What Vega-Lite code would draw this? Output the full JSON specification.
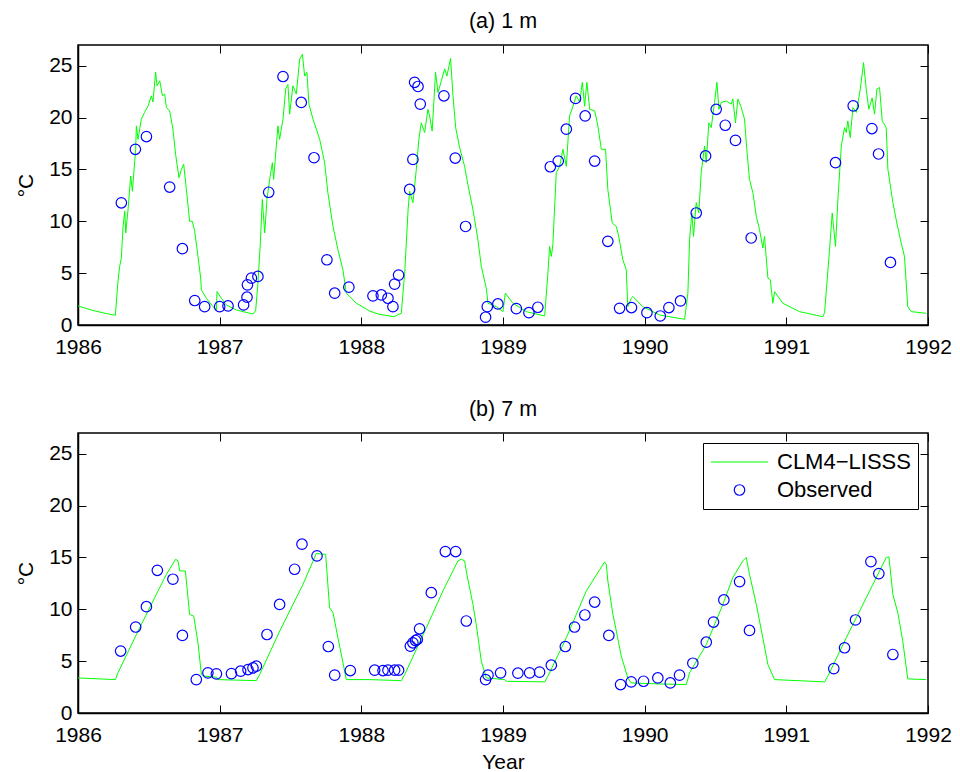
{
  "$schema": "https://vega.github.io/schema/vega-lite/v6.json",
  "padding": {"left": 14, "top": 10, "right": 5, "bottom": 2},
  "background": "white",
  "config": {
    "font": "Liberation Sans",
    "view": {"stroke": "black", "strokeWidth": 1.5},
    "axis": {"domainColor": "black", "domainWidth": 1.5, "tickColor": "black", "tickSize": -8, "tickWidth": 1, "labelFontSize": 21, "labelColor": "black", "labelFont": "Liberation Sans", "titleFont": "Liberation Sans", "titleFontSize": 21, "titleFontWeight": "normal", "titleColor": "black", "grid": false, "labelFlush": false},
    "axisX": {"labelPadding": 19, "titlePadding": 6},
    "axisY": {"labelPadding": 14, "titlePadding": 12},
    "title": {"fontSize": 21.5, "fontWeight": "normal", "color": "black", "font": "Liberation Sans", "offset": 12},
    "legend": {"orient": "top-right", "offset": 10, "strokeColor": "black", "fillColor": "white", "padding": 7, "labelFontSize": 22, "labelFont": "Liberation Sans", "labelColor": "black", "symbolStrokeWidth": 1, "labelOffset": 8, "rowPadding": 4, "clipHeight": 24}
  },
  "datasets": {
    "m1": [
      {"t":1986.0,"v":1.84},{"t":1986.1,"v":1.42},{"t":1986.2,"v":1.1},{"t":1986.264,"v":0.94},{"t":1986.28,"v":3.87},{"t":1986.294,"v":5.65},{"t":1986.306,"v":6.45},{"t":1986.318,"v":9.5},{"t":1986.33,"v":10.97},{"t":1986.337,"v":8.87},{"t":1986.353,"v":11.1},{"t":1986.372,"v":14.36},{"t":1986.384,"v":12.9},{"t":1986.407,"v":16.94},{"t":1986.412,"v":19.2},{"t":1986.424,"v":17.9},{"t":1986.447,"v":19.85},{"t":1986.47,"v":20.5},{"t":1986.494,"v":21.1},{"t":1986.518,"v":22.1},{"t":1986.529,"v":21.5},{"t":1986.548,"v":24.37},{"t":1986.558,"v":23.07},{"t":1986.577,"v":23.55},{"t":1986.596,"v":22.1},{"t":1986.612,"v":22.27},{"t":1986.624,"v":20.97},{"t":1986.647,"v":20.65},{"t":1986.67,"v":18.9},{"t":1986.689,"v":16.46},{"t":1986.713,"v":14.2},{"t":1986.73,"v":15.0},{"t":1986.746,"v":15.5},{"t":1986.765,"v":13.07},{"t":1986.788,"v":10.0},{"t":1986.807,"v":10.0},{"t":1986.824,"v":9.03},{"t":1986.847,"v":6.61},{"t":1986.866,"v":4.52},{"t":1986.871,"v":3.39},{"t":1986.906,"v":2.58},{"t":1986.953,"v":1.77},{"t":1986.977,"v":1.45},{"t":1986.981,"v":3.22},{"t":1987.012,"v":2.58},{"t":1987.047,"v":1.94},{"t":1987.118,"v":1.45},{"t":1987.235,"v":1.06},{"t":1987.254,"v":1.38},{"t":1987.27,"v":4.03},{"t":1987.287,"v":7.9},{"t":1987.301,"v":12.1},{"t":1987.318,"v":8.87},{"t":1987.334,"v":12.1},{"t":1987.353,"v":14.04},{"t":1987.372,"v":15.65},{"t":1987.381,"v":14.04},{"t":1987.411,"v":19.2},{"t":1987.423,"v":17.9},{"t":1987.447,"v":19.85},{"t":1987.466,"v":22.75},{"t":1987.482,"v":23.2},{"t":1987.494,"v":20.33},{"t":1987.517,"v":23.07},{"t":1987.541,"v":22.27},{"t":1987.565,"v":25.65},{"t":1987.584,"v":26.1},{"t":1987.6,"v":24.0},{"t":1987.616,"v":24.37},{"t":1987.63,"v":21.3},{"t":1987.659,"v":19.85},{"t":1987.682,"v":18.9},{"t":1987.706,"v":17.9},{"t":1987.741,"v":15.65},{"t":1987.764,"v":12.75},{"t":1987.8,"v":9.5},{"t":1987.835,"v":7.26},{"t":1987.87,"v":5.32},{"t":1987.894,"v":3.07},{"t":1987.965,"v":2.1},{"t":1988.059,"v":1.35},{"t":1988.12,"v":1.05},{"t":1988.23,"v":0.8},{"t":1988.282,"v":1.13},{"t":1988.306,"v":5.0},{"t":1988.33,"v":11.1},{"t":1988.341,"v":12.9},{"t":1988.364,"v":11.8},{"t":1988.388,"v":15.0},{"t":1988.406,"v":17.9},{"t":1988.423,"v":19.5},{"t":1988.447,"v":18.56},{"t":1988.47,"v":20.8},{"t":1988.482,"v":20.16},{"t":1988.5,"v":18.7},{"t":1988.524,"v":24.37},{"t":1988.541,"v":22.4},{"t":1988.565,"v":23.55},{"t":1988.588,"v":24.7},{"t":1988.604,"v":24.0},{"t":1988.63,"v":25.7},{"t":1988.647,"v":22.1},{"t":1988.666,"v":19.04},{"t":1988.694,"v":17.1},{"t":1988.729,"v":15.3},{"t":1988.752,"v":13.55},{"t":1988.788,"v":11.1},{"t":1988.823,"v":8.23},{"t":1988.847,"v":5.65},{"t":1988.882,"v":3.55},{"t":1988.894,"v":2.1},{"t":1988.953,"v":1.77},{"t":1989.0,"v":1.29},{"t":1989.016,"v":3.07},{"t":1989.07,"v":2.1},{"t":1989.164,"v":1.29},{"t":1989.294,"v":0.87},{"t":1989.317,"v":5.0},{"t":1989.329,"v":7.58},{"t":1989.341,"v":6.61},{"t":1989.352,"v":7.74},{"t":1989.376,"v":14.68},{"t":1989.4,"v":15.3},{"t":1989.423,"v":16.94},{"t":1989.447,"v":15.3},{"t":1989.47,"v":20.16},{"t":1989.494,"v":21.1},{"t":1989.517,"v":22.1},{"t":1989.541,"v":21.5},{"t":1989.56,"v":23.4},{"t":1989.576,"v":21.1},{"t":1989.592,"v":23.4},{"t":1989.612,"v":20.8},{"t":1989.647,"v":20.65},{"t":1989.67,"v":19.2},{"t":1989.694,"v":16.94},{"t":1989.724,"v":16.94},{"t":1989.74,"v":13.07},{"t":1989.771,"v":9.84},{"t":1989.8,"v":9.5},{"t":1989.817,"v":8.55},{"t":1989.846,"v":6.29},{"t":1989.87,"v":5.32},{"t":1989.881,"v":1.77},{"t":1989.905,"v":2.58},{"t":1989.917,"v":2.74},{"t":1989.987,"v":1.77},{"t":1990.105,"v":0.97},{"t":1990.152,"v":0.85},{"t":1990.282,"v":0.55},{"t":1990.305,"v":3.07},{"t":1990.317,"v":8.23},{"t":1990.333,"v":10.8},{"t":1990.345,"v":8.55},{"t":1990.364,"v":11.8},{"t":1990.382,"v":10.8},{"t":1990.399,"v":14.68},{"t":1990.423,"v":17.26},{"t":1990.435,"v":15.65},{"t":1990.453,"v":19.5},{"t":1990.47,"v":19.04},{"t":1990.493,"v":21.46},{"t":1990.51,"v":23.4},{"t":1990.524,"v":20.8},{"t":1990.541,"v":21.46},{"t":1990.576,"v":21.6},{"t":1990.611,"v":21.3},{"t":1990.622,"v":21.8},{"t":1990.641,"v":19.5},{"t":1990.658,"v":21.8},{"t":1990.682,"v":20.97},{"t":1990.705,"v":19.85},{"t":1990.721,"v":16.94},{"t":1990.74,"v":14.04},{"t":1990.764,"v":12.75},{"t":1990.788,"v":10.48},{"t":1990.811,"v":9.2},{"t":1990.834,"v":7.42},{"t":1990.846,"v":8.55},{"t":1990.87,"v":4.52},{"t":1990.887,"v":4.36},{"t":1990.905,"v":2.1},{"t":1990.917,"v":3.22},{"t":1990.975,"v":2.1},{"t":1991.093,"v":1.29},{"t":1991.258,"v":0.8},{"t":1991.27,"v":1.19},{"t":1991.305,"v":7.26},{"t":1991.324,"v":10.8},{"t":1991.347,"v":7.58},{"t":1991.364,"v":12.1},{"t":1991.388,"v":17.26},{"t":1991.411,"v":19.04},{"t":1991.423,"v":18.56},{"t":1991.434,"v":19.68},{"t":1991.451,"v":18.07},{"t":1991.47,"v":20.97},{"t":1991.494,"v":20.5},{"t":1991.522,"v":22.75},{"t":1991.545,"v":25.3},{"t":1991.564,"v":22.75},{"t":1991.582,"v":20.8},{"t":1991.606,"v":21.9},{"t":1991.623,"v":20.33},{"t":1991.639,"v":22.75},{"t":1991.658,"v":22.9},{"t":1991.677,"v":19.68},{"t":1991.705,"v":19.04},{"t":1991.717,"v":15.0},{"t":1991.752,"v":11.8},{"t":1991.78,"v":9.84},{"t":1991.811,"v":7.9},{"t":1991.834,"v":6.61},{"t":1991.857,"v":1.77},{"t":1991.881,"v":1.29},{"t":1991.987,"v":1.13}
    ],
    "o1": [
      {"t":1986.306,"v":11.78},{"t":1986.405,"v":16.94},{"t":1986.483,"v":18.17},{"t":1986.647,"v":13.3},{"t":1986.737,"v":7.36},{"t":1986.824,"v":2.36},{"t":1986.894,"v":1.77},{"t":1987.0,"v":1.77},{"t":1987.059,"v":1.84},{"t":1987.169,"v":1.94},{"t":1987.193,"v":2.68},{"t":1987.196,"v":3.87},{"t":1987.224,"v":4.52},{"t":1987.27,"v":4.68},{"t":1987.346,"v":12.8},{"t":1987.447,"v":23.96},{"t":1987.576,"v":21.46},{"t":1987.666,"v":16.13},{"t":1987.757,"v":6.29},{"t":1987.812,"v":3.07},{"t":1987.912,"v":3.65},{"t":1988.082,"v":2.81},{"t":1988.141,"v":2.9},{"t":1988.188,"v":2.58},{"t":1988.223,"v":1.77},{"t":1988.235,"v":3.94},{"t":1988.263,"v":4.81},{"t":1988.341,"v":13.07},{"t":1988.364,"v":15.97},{"t":1988.376,"v":23.4},{"t":1988.4,"v":23.0},{"t":1988.416,"v":21.3},{"t":1988.583,"v":22.1},{"t":1988.663,"v":16.1},{"t":1988.736,"v":9.5},{"t":1988.877,"v":0.75},{"t":1988.889,"v":1.77},{"t":1988.964,"v":2.03},{"t":1989.094,"v":1.58},{"t":1989.183,"v":1.19},{"t":1989.246,"v":1.71},{"t":1989.334,"v":15.26},{"t":1989.39,"v":15.81},{"t":1989.447,"v":18.88},{"t":1989.512,"v":21.85},{"t":1989.58,"v":20.16},{"t":1989.647,"v":15.81},{"t":1989.74,"v":8.07},{"t":1989.823,"v":1.61},{"t":1989.907,"v":1.68},{"t":1990.016,"v":1.19},{"t":1990.11,"v":0.87},{"t":1990.171,"v":1.68},{"t":1990.253,"v":2.32},{"t":1990.364,"v":10.8},{"t":1990.43,"v":16.3},{"t":1990.505,"v":20.8},{"t":1990.569,"v":19.26},{"t":1990.641,"v":17.8},{"t":1990.752,"v":8.39},{"t":1991.347,"v":15.65},{"t":1991.472,"v":21.13},{"t":1991.604,"v":18.94},{"t":1991.651,"v":16.49},{"t":1991.735,"v":6.03}
    ],
    "m7": [
      {"t":1986.0,"v":3.38},{"t":1986.264,"v":3.22},{"t":1986.282,"v":3.87},{"t":1986.412,"v":7.57},{"t":1986.553,"v":11.44},{"t":1986.624,"v":13.37},{"t":1986.689,"v":14.83},{"t":1986.706,"v":14.67},{"t":1986.718,"v":13.7},{"t":1986.758,"v":13.7},{"t":1986.788,"v":9.5},{"t":1986.817,"v":9.35},{"t":1986.847,"v":6.77},{"t":1986.871,"v":3.7},{"t":1986.894,"v":3.55},{"t":1986.977,"v":3.45},{"t":1986.988,"v":3.22},{"t":1987.259,"v":3.12},{"t":1987.282,"v":3.7},{"t":1987.424,"v":7.9},{"t":1987.588,"v":12.4},{"t":1987.682,"v":15.38},{"t":1987.748,"v":15.3},{"t":1987.776,"v":10.15},{"t":1987.8,"v":9.67},{"t":1987.835,"v":7.25},{"t":1987.894,"v":3.22},{"t":1988.059,"v":3.22},{"t":1988.282,"v":3.12},{"t":1988.306,"v":3.7},{"t":1988.459,"v":8.22},{"t":1988.576,"v":11.77},{"t":1988.682,"v":14.67},{"t":1988.706,"v":14.83},{"t":1988.729,"v":14.67},{"t":1988.745,"v":13.37},{"t":1988.788,"v":10.47},{"t":1988.811,"v":8.54},{"t":1988.847,"v":5.0},{"t":1988.882,"v":3.38},{"t":1989.011,"v":3.22},{"t":1989.024,"v":3.06},{"t":1989.294,"v":3.0},{"t":1989.317,"v":3.55},{"t":1989.447,"v":7.25},{"t":1989.588,"v":11.77},{"t":1989.717,"v":14.57},{"t":1989.729,"v":14.34},{"t":1989.74,"v":12.74},{"t":1989.776,"v":9.5},{"t":1989.8,"v":7.9},{"t":1989.835,"v":5.48},{"t":1989.881,"v":3.38},{"t":1989.905,"v":2.9},{"t":1990.105,"v":2.8},{"t":1990.294,"v":2.74},{"t":1990.317,"v":3.87},{"t":1990.435,"v":6.6},{"t":1990.552,"v":10.47},{"t":1990.622,"v":13.06},{"t":1990.693,"v":14.67},{"t":1990.717,"v":15.0},{"t":1990.74,"v":13.37},{"t":1990.788,"v":10.47},{"t":1990.834,"v":7.25},{"t":1990.87,"v":4.67},{"t":1990.917,"v":3.22},{"t":1991.27,"v":3.0},{"t":1991.293,"v":3.55},{"t":1991.423,"v":7.25},{"t":1991.611,"v":12.4},{"t":1991.705,"v":15.0},{"t":1991.724,"v":15.06},{"t":1991.752,"v":11.44},{"t":1991.787,"v":9.67},{"t":1991.822,"v":6.93},{"t":1991.857,"v":3.29},{"t":1991.987,"v":3.22}
    ],
    "o7": [
      {"t":1986.301,"v":5.97},{"t":1986.407,"v":8.29},{"t":1986.483,"v":10.25},{"t":1986.56,"v":13.76},{"t":1986.67,"v":12.9},{"t":1986.737,"v":7.48},{"t":1986.835,"v":3.22},{"t":1986.917,"v":3.87},{"t":1986.977,"v":3.77},{"t":1987.083,"v":3.8},{"t":1987.148,"v":4.03},{"t":1987.2,"v":4.19},{"t":1987.235,"v":4.35},{"t":1987.259,"v":4.52},{"t":1987.334,"v":7.57},{"t":1987.423,"v":10.47},{"t":1987.529,"v":13.86},{"t":1987.581,"v":16.28},{"t":1987.687,"v":15.15},{"t":1987.767,"v":6.41},{"t":1987.812,"v":3.65},{"t":1987.922,"v":4.09},{"t":1988.094,"v":4.13},{"t":1988.153,"v":4.09},{"t":1988.188,"v":4.13},{"t":1988.235,"v":4.13},{"t":1988.263,"v":4.13},{"t":1988.346,"v":6.45},{"t":1988.364,"v":6.77},{"t":1988.383,"v":6.99},{"t":1988.395,"v":7.09},{"t":1988.411,"v":8.12},{"t":1988.494,"v":11.6},{"t":1988.593,"v":15.57},{"t":1988.666,"v":15.57},{"t":1988.741,"v":8.87},{"t":1988.877,"v":3.22},{"t":1988.894,"v":3.65},{"t":1988.983,"v":3.87},{"t":1989.105,"v":3.84},{"t":1989.188,"v":3.87},{"t":1989.258,"v":3.94},{"t":1989.341,"v":4.61},{"t":1989.44,"v":6.41},{"t":1989.505,"v":8.29},{"t":1989.578,"v":9.45},{"t":1989.647,"v":10.7},{"t":1989.747,"v":7.48},{"t":1989.83,"v":2.74},{"t":1989.905,"v":3.0},{"t":1989.992,"v":3.06},{"t":1990.093,"v":3.38},{"t":1990.181,"v":2.9},{"t":1990.246,"v":3.65},{"t":1990.34,"v":4.8},{"t":1990.435,"v":6.83},{"t":1990.486,"v":8.77},{"t":1990.559,"v":10.9},{"t":1990.67,"v":12.67},{"t":1990.74,"v":7.96},{"t":1991.335,"v":4.28},{"t":1991.411,"v":6.29},{"t":1991.488,"v":8.97},{"t":1991.597,"v":14.6},{"t":1991.653,"v":13.44},{"t":1991.752,"v":5.64}
    ]
  },
  "spacing": 40,
  "resolve": {"scale": {"color": "independent"}, "legend": {"color": "independent"}},
  "vconcat": [
    {
      "width": 850, "height": 280,
      "title": "(a) 1 m",
      "resolve": {"axis": {"x": "independent", "y": "independent"}},
      "layer": [
        {
          "data": {"name": "m1"},
          "mark": {"type": "line", "color": "#00ff00", "strokeWidth": 1},
          "encoding": {
            "x": {"field": "t", "type": "quantitative", "scale": {"domain": [1986, 1992], "nice": false, "zero": false}, "axis": {"orient": "bottom", "values": [1986,1987,1988,1989,1990,1991,1992], "format": "d", "title": null}},
            "y": {"field": "v", "type": "quantitative", "scale": {"domain": [0, 27], "nice": false}, "axis": {"orient": "left", "values": [0,5,10,15,20,25], "title": "°C"}}
          }
        },
        {
          "data": {"name": "o1"},
          "mark": {"type": "point", "shape": "circle", "filled": false, "color": "#0000ff", "size": 110, "strokeWidth": 1.2, "opacity": 1},
          "encoding": {
            "x": {"field": "t", "type": "quantitative", "axis": {"orient": "top", "labels": false, "domain": false, "values": [1986,1987,1988,1989,1990,1991,1992], "title": null}},
            "y": {"field": "v", "type": "quantitative", "axis": {"orient": "right", "labels": false, "domain": false, "values": [0,5,10,15,20,25], "title": null}}
          }
        }
      ]
    },
    {
      "width": 850, "height": 280,
      "title": "(b) 7 m",
      "resolve": {"axis": {"x": "independent", "y": "independent"}},
      "layer": [
        {
          "data": {"name": "m7"},
          "mark": {"type": "line", "strokeWidth": 1},
          "encoding": {
            "x": {"field": "t", "type": "quantitative", "scale": {"domain": [1986, 1992], "nice": false, "zero": false}, "axis": {"orient": "bottom", "values": [1986,1987,1988,1989,1990,1991,1992], "format": "d", "title": "Year"}},
            "y": {"field": "v", "type": "quantitative", "scale": {"domain": [0, 27], "nice": false}, "axis": {"orient": "left", "values": [0,5,10,15,20,25], "title": "°C"}},
            "color": {"datum": "CLM4−LISSS", "type": "nominal", "scale": {"domain": ["CLM4−LISSS", "Observed"], "range": ["#00ff00", "#0000ff"]},
              "legend": {"title": null, "encode": {"symbols": {"update": {"shape": {"signal": "datum.value === 'Observed' ? 'circle' : 'stroke'"}, "size": {"signal": "datum.value === 'Observed' ? 110 : 3249"}, "fill": {"value": "transparent"}, "strokeWidth": {"value": 1.2}}}}}}
          }
        },
        {
          "data": {"name": "o7"},
          "mark": {"type": "point", "shape": "circle", "filled": false, "size": 110, "strokeWidth": 1.2, "opacity": 1},
          "encoding": {
            "x": {"field": "t", "type": "quantitative", "axis": {"orient": "top", "labels": false, "domain": false, "values": [1986,1987,1988,1989,1990,1991,1992], "title": null}},
            "y": {"field": "v", "type": "quantitative", "axis": {"orient": "right", "labels": false, "domain": false, "values": [0,5,10,15,20,25], "title": null}},
            "color": {"datum": "Observed", "type": "nominal"}
          }
        }
      ]
    }
  ]
}
